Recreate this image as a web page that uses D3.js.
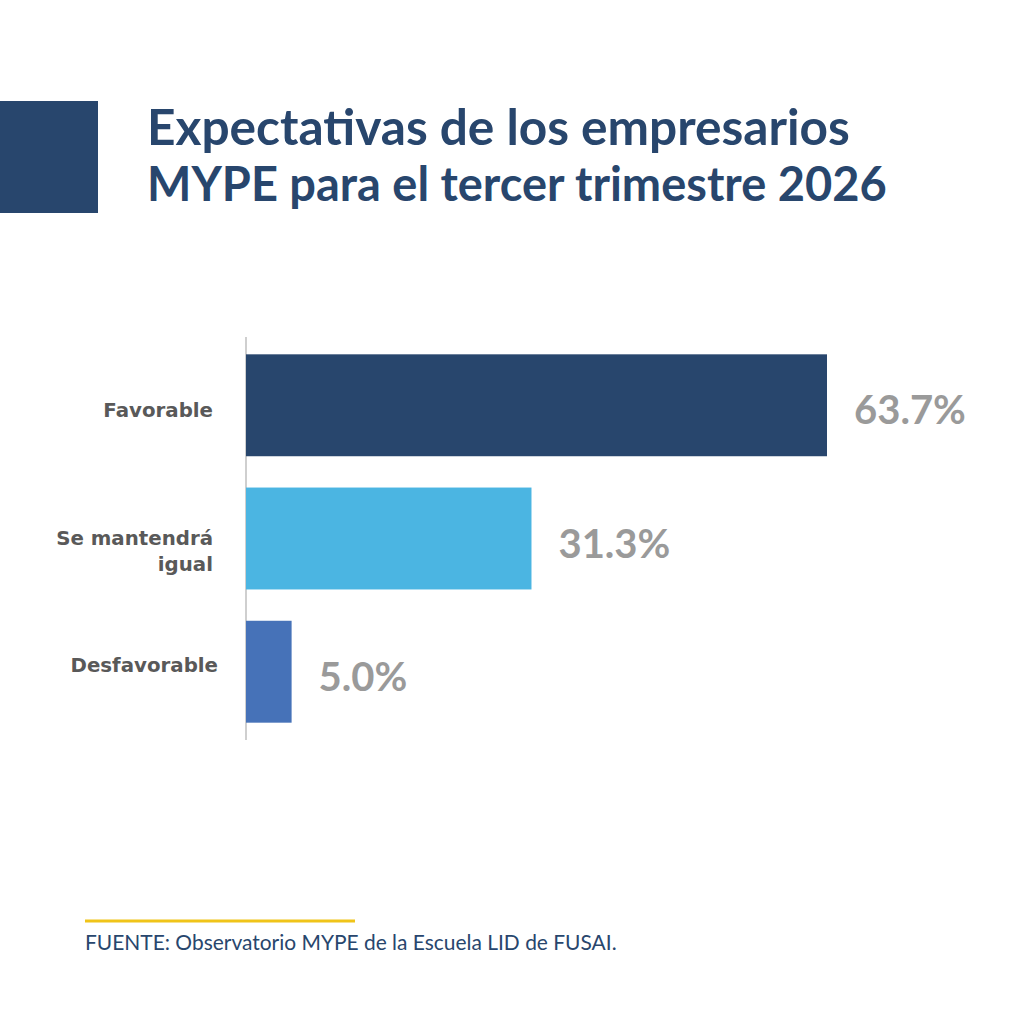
<!DOCTYPE html>
<html><head><meta charset="utf-8">
<script src="https://cdn.jsdelivr.net/npm/d3@7"></script>
<style>body{margin:0;background:#fff}svg{display:block}</style>
</head><body>
<svg id="c" width="1024" height="1024"></svg>
<script>
const categories = ["Favorable", "Se mantendrá igual", "Desfavorable"];
const categoryLines = [["Favorable"], ["Se mantendrá", "igual"], ["Desfavorable"]];
const values = [63.7, 31.3, 5.0];
const barColors = ["#28466d", "#4bb5e2", "#4672b8"];
const titleLines = ["Expectativas de los empresarios", "MYPE para el tercer trimestre 2026"];
const sourceText = "FUENTE: Observatorio MYPE de la Escuela LID de FUSAI.";

const svg = d3.select("#c");
svg.append("rect").attr("width",1024).attr("height",1024).attr("fill","#fff");

// title block
svg.append("rect").attr("x",0).attr("y",101).attr("width",98).attr("height",112).attr("fill","#28466d");
const title = svg.append("g");
const fitText = (t, w) => {
  const l = t.node().getComputedTextLength();
  const fs = parseFloat(t.attr("font-size"));
  t.attr("font-size", fs * w / l);
};
const t1 = title.append("text").attr("x",147).attr("y",145).text(titleLines[0])
  .attr("font-family","Lato, 'Open Sans', sans-serif").attr("font-weight","bold").attr("font-size",42).attr("fill","#28466d");
const t2 = title.append("text").attr("x",147).attr("y",201).text(titleLines[1])
  .attr("font-family","Lato, 'Open Sans', sans-serif").attr("font-weight","bold").attr("font-size",42).attr("fill","#28466d");
fitText(t1, 703); fitText(t2, 740);

// chart
const x0 = 246;
const x = d3.scaleLinear().domain([0, 63.7]).range([x0, 827]);
const y = d3.scaleBand().domain(categories).range([337, 740]).paddingInner(0.235).paddingOuter(0.13);

svg.append("line").attr("x1",x0).attr("x2",x0).attr("y1",337).attr("y2",740)
  .attr("stroke","#bfbfbf").attr("stroke-width",1.5);

svg.selectAll("rect.bar").data(values).join("rect").attr("class","bar")
  .attr("x", x(0)).attr("y",(d,i)=>y(categories[i]))
  .attr("width", d=>x(d)-x(0)).attr("height", y.bandwidth())
  .attr("fill",(d,i)=>barColors[i]);

svg.selectAll("text.val").data(values).join("text").attr("class","val")
  .attr("x", d=>x(d)+27).attr("y",(d,i)=>y(categories[i])+y.bandwidth()/2+19)
  .attr("font-family","Lato, 'Open Sans', sans-serif").attr("font-weight","bold").attr("font-size",40)
  .attr("fill","#9a9a9a").text(d=>d.toFixed(1)+"%");

// label vertical nudges (px) relative to band centre
const labelNudge = [12, 6, 0];
categories.forEach((c,i)=>{
  const lines = categoryLines[i];
  const cy = y(c)+y.bandwidth()/2;
  const t = svg.append("text").attr("text-anchor","end")
    .attr("font-family","'DejaVu Sans', sans-serif").attr("font-weight","bold").attr("font-size",19.8)
    .attr("fill","#595959");
  lines.forEach((l,j)=>{
    t.append("tspan").attr("x", i===2?218:213).attr("y", cy + labelNudge[i] + j*26).text(l);
  });
});

// footer
svg.append("line").attr("x1",85).attr("x2",355).attr("y1",921).attr("y2",921)
  .attr("stroke","#f0c419").attr("stroke-width",3);
const ft = svg.append("text").attr("x",85).attr("y",950).text(sourceText)
  .attr("font-family","Lato, 'Open Sans', sans-serif").attr("font-size",17).attr("fill","#28466d");
fitText(ft, 532);
</script>
</body></html>
